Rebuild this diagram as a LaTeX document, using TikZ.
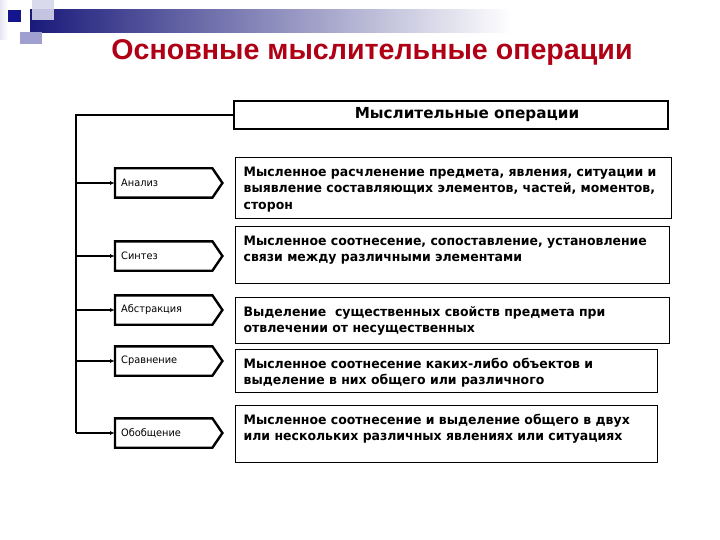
\documentclass[tikz,border=0pt]{standalone}
\usepackage{fontspec}
\setmainfont{DejaVu Sans}
\newfontfamily\titlefont{Liberation Sans}
\newfontfamily\boxfont[FakeStretch=0.96]{DejaVu Sans}
\newfontfamily\hdrfont{DejaVu Sans}
\usetikzlibrary{arrows.meta}
\definecolor{titlered}{RGB}{176,0,22}
\definecolor{navy}{RGB}{26,26,122}
\definecolor{lav}{RGB}{214,214,236}
\definecolor{lavd}{RGB}{160,160,208}
\definecolor{sqd}{RGB}{20,20,140}
\tikzset{
  titlestyle/.style={font=\titlefont\bfseries\fontsize{28.6}{32}\selectfont, text=titlered, inner sep=0pt},
  hdrbox/.style={draw, line width=2pt, minimum width=434pt, minimum height=28pt, inner sep=0pt,
    font=\hdrfont\bfseries\fontsize{15.2}{17}\selectfont},
  rbox/.style={draw, line width=1.2pt, anchor=north west, inner xsep=8pt, inner ysep=6pt,
    font=\boxfont\bfseries\fontsize{13}{16.8}\selectfont},
  lbox/.style={anchor=west, minimum height=29pt, text width=85pt, inner xsep=6pt, inner ysep=0pt, align=left,
    font=\boxfont\fontsize{10.2}{12}\selectfont},
  lline/.style={line width=2.4pt, line join=miter},
  spine/.style={line width=1.3pt},
  feed/.style={line width=1.3pt, -{Latex[length=5pt,width=4pt]}}
}
\newcommand{\rtext}[3]{\parbox[c][#1][t]{#2}{\rule{0pt}{12.5pt}#3}}
\begin{document}
\begin{tikzpicture}[x=1pt,y=-1pt]
\useasboundingbox (0,0) rectangle (720,540);
\fill[white] (0,0) rectangle (720,540);
% decoration
\fill[left color=lav!60, right color=white] (0,0) rectangle (8,40);
\fill[left color=navy, right color=white] (30,10) rectangle (512,33);
\fill[lav, opacity=0.9] (32,0) rectangle (54,20);
\fill[sqd] (8,10) rectangle (21,22);
\fill[lavd] (20,32) rectangle (42,44);
% title
\node[titlestyle] (title) at (372,52) {Основные мыслительные операции};
% header
\node[hdrbox] (hdr) at (451,115) {\hspace*{32pt}Мыслительные операции};
% right boxes
\node[rbox] (r1) at (235,157) {\rtext{49pt}{420pt}{\mbox{Мысленное расчленение предмета, явления, ситуации и}\\\mbox{выявление составляющих элементов, частей, моментов,}\\\mbox{сторон}}};
\node[rbox] (r2) at (235,226) {\rtext{45pt}{418pt}{\mbox{Мысленное соотнесение, сопоставление, установление}\\\mbox{связи между различными элементами}}};
\node[rbox] (r3) at (235,297) {\rtext{34pt}{418pt}{\mbox{Выделение\ \ существенных свойств предмета при}\\\mbox{отвлечении от несущественных}}};
\node[rbox] (r4) at (235,349) {\rtext{31pt}{406pt}{\mbox{Мысленное соотнесение каких-либо объектов и}\\\mbox{выделение в них общего или различного}}};
\node[rbox] (r5) at (235,405) {\rtext{45pt}{406pt}{\mbox{Мысленное соотнесение и выделение общего в двух}\\\mbox{или нескольких различных явлениях или ситуациях}}};
% left boxes
\node[lbox] (l1) at (115,183) {Анализ};
\node[lbox] (l2) at (115,256) {Синтез};
\node[lbox] (l3) at (115,310) {Абстракция};
\node[lbox] (l4) at (115,361) {Сравнение};
\node[lbox] (l5) at (115,433) {Обобщение};
\foreach \n in {l1,l2,l3,l4,l5}{
  \draw[lline] (\n.north west) -- (\n.north east) -- ([xshift=10pt]\n.east) -- (\n.south east) -- (\n.south west) -- cycle;
}
% spine
\coordinate (top) at (76,115);
\draw[spine] (hdr.west) -- (top) -- (top |- l5.west);
\foreach \n in {l1,l2,l3,l4,l5}{
  \draw[feed] (top |- \n.west) -- (\n.west);
}
\end{tikzpicture}
\end{document}
